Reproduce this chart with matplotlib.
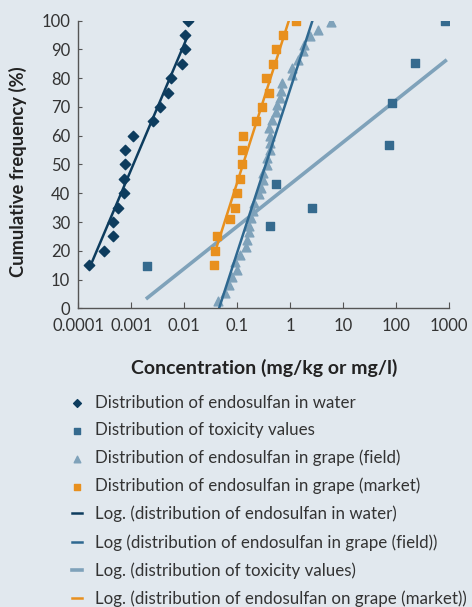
import numpy as np
import matplotlib
matplotlib.use("Agg")
import matplotlib.pyplot as plt
from matplotlib.ticker import FixedLocator, FixedFormatter, NullLocator

plt.rcParams['font.family'] = ['Lato', 'DejaVu Sans']

# --- data ---
water_x = [0.00016, 0.0003, 0.00045, 0.00045, 0.00055, 0.00074, 0.00074, 0.00077,
           0.00077, 0.00108, 0.0026, 0.0035, 0.005, 0.0056, 0.0092, 0.0104, 0.0104, 0.0117]
water_y = [15, 20, 25, 30, 35, 40, 45, 50, 55, 60, 65, 70, 75, 80, 85, 90, 95, 100]

tox_x = [0.002, 0.42, 2.6, 0.55, 75, 85, 232, 855]
tox_y = [14.8, 28.6, 35.0, 43.3, 56.9, 71.5, 85.3, 100]

field_x = [0.043, 0.058, 0.070, 0.079, 0.098, 0.090, 0.112, 0.148, 0.155, 0.164,
           0.169, 0.182, 0.20, 0.205, 0.26, 0.28, 0.30, 0.31, 0.37, 0.36,
           0.41, 0.41, 0.41, 0.40, 0.45, 0.53, 0.57, 0.63, 0.67, 0.71,
           1.06, 1.08, 1.42, 1.71, 1.82, 2.33, 3.34, 5.9]
field_y = [2.6, 5.4, 8.1, 10.8, 13.5, 16.1, 18.6, 21.3, 23.8, 26.4,
           28.7, 31.3, 33.9, 36.6, 39.7, 42.0, 44.6, 47.1, 49.7, 52.3,
           54.9, 57.5, 60.0, 62.6, 65.3, 68.1, 70.6, 73.2, 75.7, 78.3,
           81.0, 83.5, 86.4, 89.3, 91.6, 94.5, 96.8, 99.6]

market_x = [0.037, 0.038, 0.041, 0.074, 0.092, 0.097, 0.115, 0.124, 0.124, 0.13,
            0.229, 0.288, 0.39, 0.353, 0.48, 0.53, 0.74, 1.30]
market_y = [15, 20, 25, 31, 35, 40, 45, 50, 55, 60, 65, 70, 75, 80, 85, 90, 95, 100]

x_ticks = [0.0001, 0.001, 0.01, 0.1, 1, 10, 100, 1000]
x_tick_labels = ['0.0001', '0.001', '0.01', '0.1', '1', '10', '100', '1000']
y_ticks = list(range(0, 101, 10))

c_water = '#0d3c5e'
c_tox = '#356a8e'
c_field = '#7fa2ba'
c_field_line = '#2e6890'
c_market = '#e8901e'
bg = '#e1e8ee'


def log_fit(x, y):
    # Excel style "Log" trendline: y = a*log(x) + b, drawn over the data range
    x = np.asarray(x, dtype=float)
    b, a = np.polyfit(np.log10(x), y, 1)
    xs = np.logspace(np.log10(x.min()), np.log10(x.max()), 50)
    return xs, a + b * np.log10(xs)


fig = plt.figure(figsize=(4.72, 6.07), dpi=100, facecolor=bg)
ax = fig.add_axes([0.1663, 0.492, 0.7849, 0.474])
ax.set_facecolor(bg)

p_water = ax.scatter(water_x, water_y, marker='D', s=28, color=c_water, zorder=4,
                     label='Distribution of endosulfan in water')
p_tox = ax.scatter(tox_x, tox_y, marker='s', s=34, color=c_tox, zorder=4,
                   label='Distribution of toxicity values')
p_field = ax.scatter(field_x, field_y, marker='^', s=40, color=c_field, zorder=3,
                     label='Distribution of endosulfan in grape (field)')
p_market = ax.scatter(market_x, market_y, marker='s', s=34, color=c_market, zorder=4,
                      label='Distribution of endosulfan in grape (market)')

xs, ys = log_fit(water_x, water_y)
l_water, = ax.plot(xs, ys, color=c_water, lw=1.8, zorder=3,
                   label='Log. (distribution of endosulfan in water)')
xs, ys = log_fit(field_x, field_y)
l_field, = ax.plot(xs, ys, color=c_field_line, lw=1.8, zorder=3,
                   label='Log (distribution of endosulfan in grape (field))')
xs, ys = log_fit(tox_x, tox_y)
l_tox, = ax.plot(xs, ys, color=c_field, lw=2.6, zorder=2,
                 label='Log. (distribution of toxicity values)')
xs, ys = log_fit(market_x, market_y)
l_market, = ax.plot(xs, ys, color=c_market, lw=1.8, zorder=3,
                    label='Log. (distribution of endosulfan on grape (market))')

ax.set_xscale('log')
ax.set_xlim(0.0001, 1000)
ax.set_ylim(0, 100)
ax.xaxis.set_major_locator(FixedLocator(x_ticks))
ax.xaxis.set_major_formatter(FixedFormatter(x_tick_labels))
ax.xaxis.set_minor_locator(NullLocator())
ax.set_yticks(y_ticks)

for s in ['top', 'right']:
    ax.spines[s].set_visible(False)
for s in ['left', 'bottom']:
    ax.spines[s].set_color('#555555')
    ax.spines[s].set_linewidth(1.0)
ax.tick_params(axis='x', direction='in', length=4, color='#555555',
               labelsize=12, labelcolor='#333333', pad=7)
ax.tick_params(axis='y', direction='in', length=3, color='#555555',
               labelsize=12, labelcolor='#333333', pad=6)

ax.set_xlabel('Concentration (mg/kg or mg/l)', fontsize=14, fontweight='bold',
              color='#222222', labelpad=18)
# y label placed on the figure so it sits where the reference has it
fig.text(17.5 / 472, 1 - 171.5 / 607, 'Cumulative frequency (%)', rotation=90,
         ha='center', va='center', fontsize=13.2, fontweight='bold', color='#222222')

handles = [p_water, p_tox, p_field, p_market, l_water, l_field, l_tox, l_market]
leg = fig.legend(handles=handles, labels=[h.get_label() for h in handles],
                 loc='upper left', bbox_to_anchor=(0.138, 0.361), frameon=False,
                 fontsize=12.2, handlelength=0.6, handletextpad=0.75,
                 labelspacing=0.68, markerscale=0.75, borderaxespad=0)
for t in leg.get_texts():
    t.set_color('#333333')

fig.savefig('out.png', dpi=100, facecolor=bg)
